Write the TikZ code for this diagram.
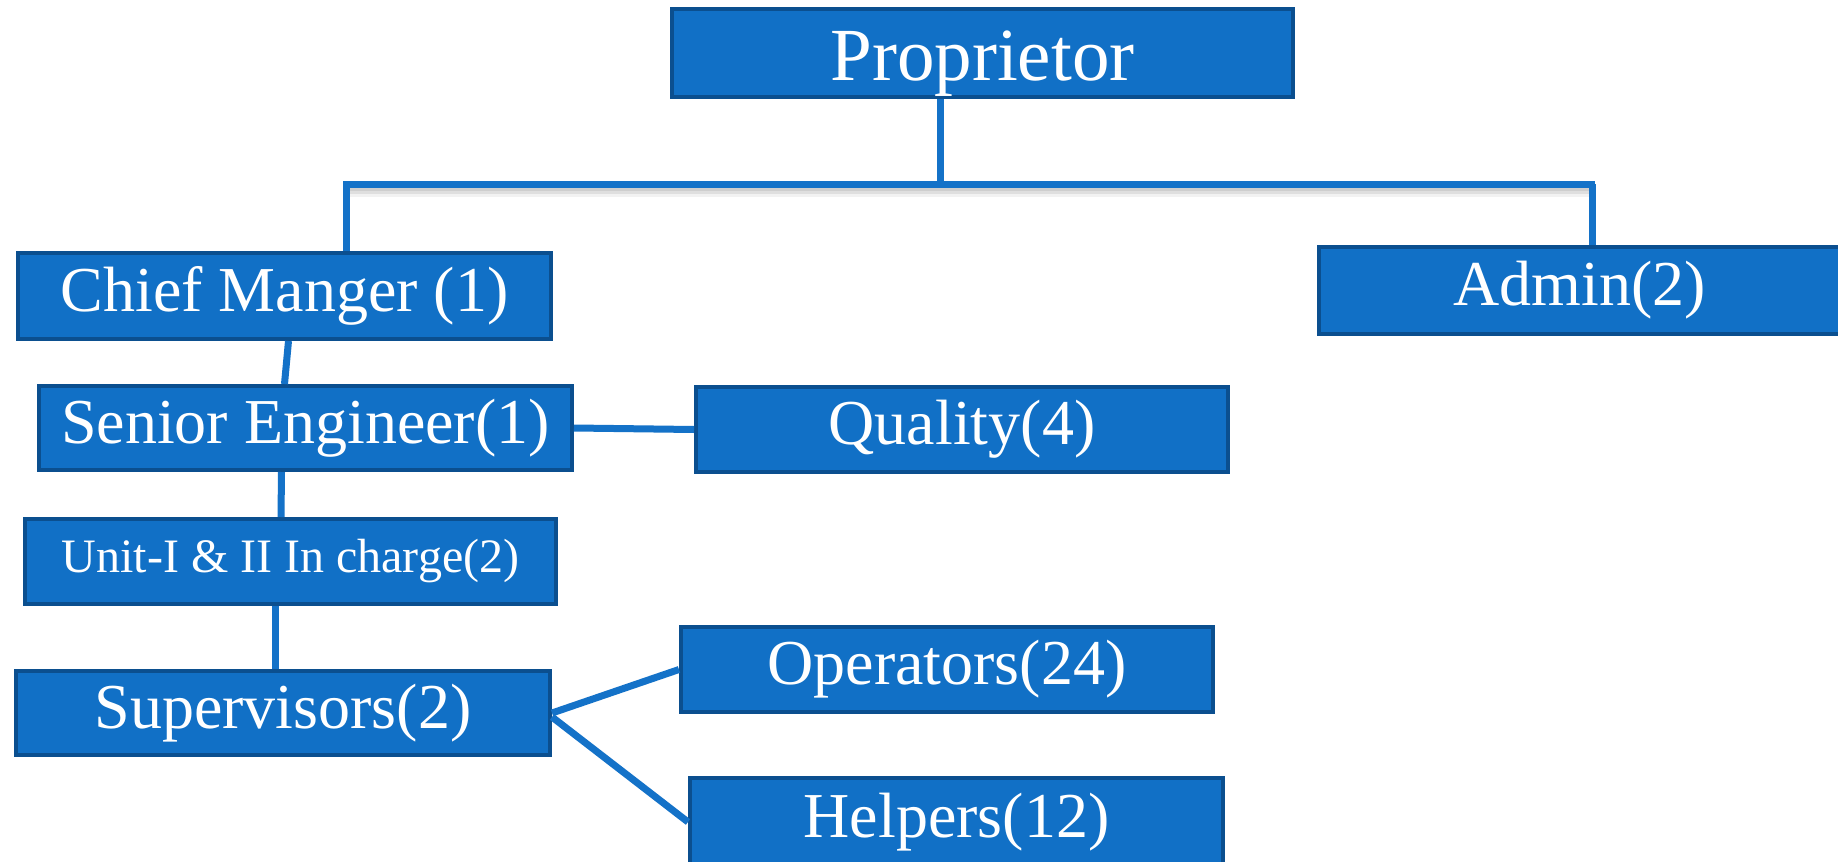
\documentclass[tikz,border=0pt]{standalone}
\usepackage{fontspec}
\setmainfont{Liberation Serif}
\definecolor{boxblue}{HTML}{1170C6}
\definecolor{boxedge}{HTML}{0B4F8F}
\definecolor{linkblue}{HTML}{1472C8}
\tikzset{
  orgbox/.style={draw=boxedge, line width=2pt, fill=boxblue, text=white,
    inner sep=0pt, anchor=center, font=\fontsize{32pt}{36pt}\selectfont},
  link/.style={draw=linkblue, line width=3.5pt},
  shade/.style={draw=black, line width=3pt},
}
\begin{document}
\begin{tikzpicture}[x=0.5pt,y=-0.5pt]
\useasboundingbox (0,0) rectangle (1838,862);
\clip (0,0) rectangle (1838,862);
\fill[white] (0,0) rectangle (1838,862);
% nodes
\node[orgbox, minimum width=310.5pt, minimum height=44pt, text height=35pt, text depth=8pt, font=\fontsize{37.5pt}{40pt}\selectfont] (prop) at (982.5,53) {Proprietor};
\node[orgbox, minimum width=266.5pt, minimum height=43pt] (chief) at (284.5,296) {Chief Manger (1)};
\node[orgbox, minimum width=265.5pt, minimum height=43.5pt] (admin) at (1584.5,290.5) {\hspace*{-5pt}Admin(2)};
\node[orgbox, minimum width=266.5pt, minimum height=42pt] (senior) at (305.5,428) {Senior Engineer(1)};
\node[orgbox, minimum width=266pt, minimum height=42.5pt] (quality) at (962,429.5) {Quality(4)};
\node[orgbox, minimum width=265.5pt, minimum height=42.5pt, font=\fontsize{24pt}{28pt}\selectfont] (unit) at (290.5,561.5) {Unit-I \& II In charge(2)};
\node[orgbox, minimum width=267pt, minimum height=42pt] (sup) at (283,713) {Supervisors(2)};
\node[orgbox, minimum width=266pt, minimum height=42.5pt] (oper) at (947,669.5) {Operators(24)};
\node[orgbox, minimum width=266.5pt, minimum height=44pt] (help) at (956.5,822) {Helpers(12)};
% bus
\coordinate (busL) at (343,184);
\coordinate (busR) at (1595,184);
\coordinate (propdrop) at ([xshift=-21.25pt]prop.south);
\coordinate (busM) at (propdrop |- busL);
\foreach \o/\s in {2/0.12,3.5/0.08,5/0.05}
  \draw[shade, opacity=\s] ([yshift=-\o pt]busL) -- ([yshift=-\o pt]busR);
\draw[link] (propdrop) -- (busM);
\draw[link] (busL) -- (busR);
\draw[link] ([xshift=1.5pt]busL) -- ([xshift=1.5pt]busL |- chief.north);
\draw[link] ([xshift=-1.5pt]busR) -- ([xshift=-1.5pt]busR |- admin.north);
% chain
\draw[link] ([xshift=2pt]chief.south) -- (chief.south |- senior.north);
\draw[link] ([xshift=-12pt]senior.south) -- ([xshift=-4.75pt]unit.north);
\draw[link] ([xshift=-7.75pt]unit.south) -- ([xshift=-4pt]sup.north);
\draw[link] (senior.east) -- (quality.west);
\draw[link] (sup.east) -- (oper.west);
\draw[link] ([yshift=-2pt]sup.east) -- (help.west);
\end{tikzpicture}
\end{document}
